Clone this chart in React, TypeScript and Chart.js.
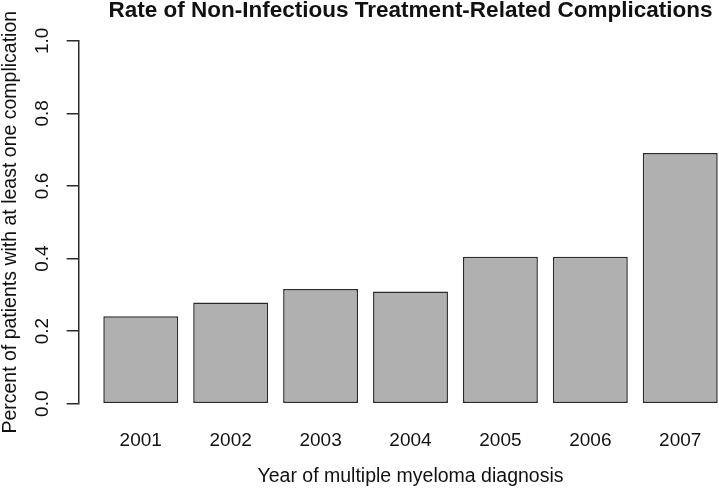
import React, { useEffect, useRef } from 'react';
import { Chart, registerables } from 'chart.js';

Chart.register(...registerables);

// ---- data ----
const years: string[] = ['2001', '2002', '2003', '2004', '2005', '2006', '2007'];
const rates: number[] = [0.241, 0.279, 0.316, 0.309, 0.405, 0.405, 0.691];
const yTickValues: number[] = [0, 0.2, 0.4, 0.6, 0.8, 1.0];
const yTickLabels: string[] = ['0.0', '0.2', '0.4', '0.6', '0.8', '1.0'];
const titleText = 'Rate of Non-Infectious Treatment-Related Complications';
const xTitleText = 'Year of multiple myeloma diagnosis';
const yTitleText = 'Percent of patients with at least one complication';

// ---- style ----
const FONT = "'Liberation Sans', Arial, Helvetica, sans-serif";
const TEXT = '#111111';
const AXIS = '#2a2a2a';
const BAR_FILL = '#b0b0b0';

export default function App() {
  const ref = useRef<HTMLCanvasElement | null>(null);

  useEffect(() => {
    if (!ref.current) return;
    const chart = new Chart(ref.current, {
      type: 'bar',
      data: {
        labels: years,
        datasets: [
          {
            data: rates,
            backgroundColor: BAR_FILL,
            borderColor: AXIS,
            borderWidth: 1.5,
            borderSkipped: false,
            barPercentage: 1 / 1.2,
            categoryPercentage: 1,
          },
        ],
      },
      options: {
        animation: false,
        responsive: false,
        devicePixelRatio: 1,
        layout: { padding: { left: 0, right: 34.8, top: 0, bottom: 0 } },
        plugins: {
          legend: { display: false },
          tooltip: { enabled: false },
          title: {
            display: true,
            text: titleText,
            color: TEXT,
            fullSize: false,
            font: { family: FONT, size: 22.5, weight: 'bold', lineHeight: 1 },
            padding: { top: 0, bottom: 18.3 },
          },
        },
        scales: {
          x: {
            type: 'category',
            offset: true,
            grid: { display: false, drawTicks: false },
            border: { display: false },
            ticks: {
              color: TEXT,
              font: { family: FONT, size: 19 },
              padding: 25.5,
              maxRotation: 0,
              minRotation: 0,
              autoSkip: false,
            },
            afterFit: (s: any) => {
              s.height = 84.3;
            },
            title: {
              display: true,
              text: xTitleText,
              color: TEXT,
              font: { family: FONT, size: 19.5 },
              padding: 0,
            },
          },
          y: {
            type: 'linear',
            position: 'left',
            weight: 10,
            min: 0,
            max: 1,
            afterBuildTicks: (s: any) => {
              s.ticks = yTickValues.map((v) => ({ value: v }));
            },
            afterFit: (s: any) => {
              s.width = 78.7;
            },
            grid: {
              display: true,
              drawOnChartArea: false,
              drawTicks: true,
              tickLength: 12,
              color: AXIS,
              lineWidth: 1.5,
            },
            border: { display: true, color: AXIS, width: 1.5 },
            ticks: {
              minRotation: 90,
              maxRotation: 90,
              crossAlign: 'center',
              padding: 10.4,
              color: TEXT,
              font: { family: FONT, size: 19 },
              callback: (_v: any, i: number) => yTickLabels[i],
            },
            title: {
              display: true,
              text: yTitleText,
              color: TEXT,
              font: { family: FONT, size: 19.5, lineHeight: 1.05 },
              padding: 0,
            },
          },
          spacer: {
            type: 'linear',
            axis: 'y',
            position: 'left',
            weight: 0,
            display: true,
            grid: { display: false, drawTicks: false },
            border: { display: false },
            ticks: { display: false },
            afterFit: (s: any) => {
              s.width = 17.1;
            },
          },
        },
      } as any,
    });
    return () => chart.destroy();
  }, []);

  return (
    <div
      style={{
        position: 'absolute',
        left: 0,
        top: 0,
        width: 719,
        height: 488,
        overflow: 'hidden',
        background: '#ffffff',
      }}
    >
      <canvas ref={ref} width={760} height={488} style={{ display: 'block' }} />
    </div>
  );
}
